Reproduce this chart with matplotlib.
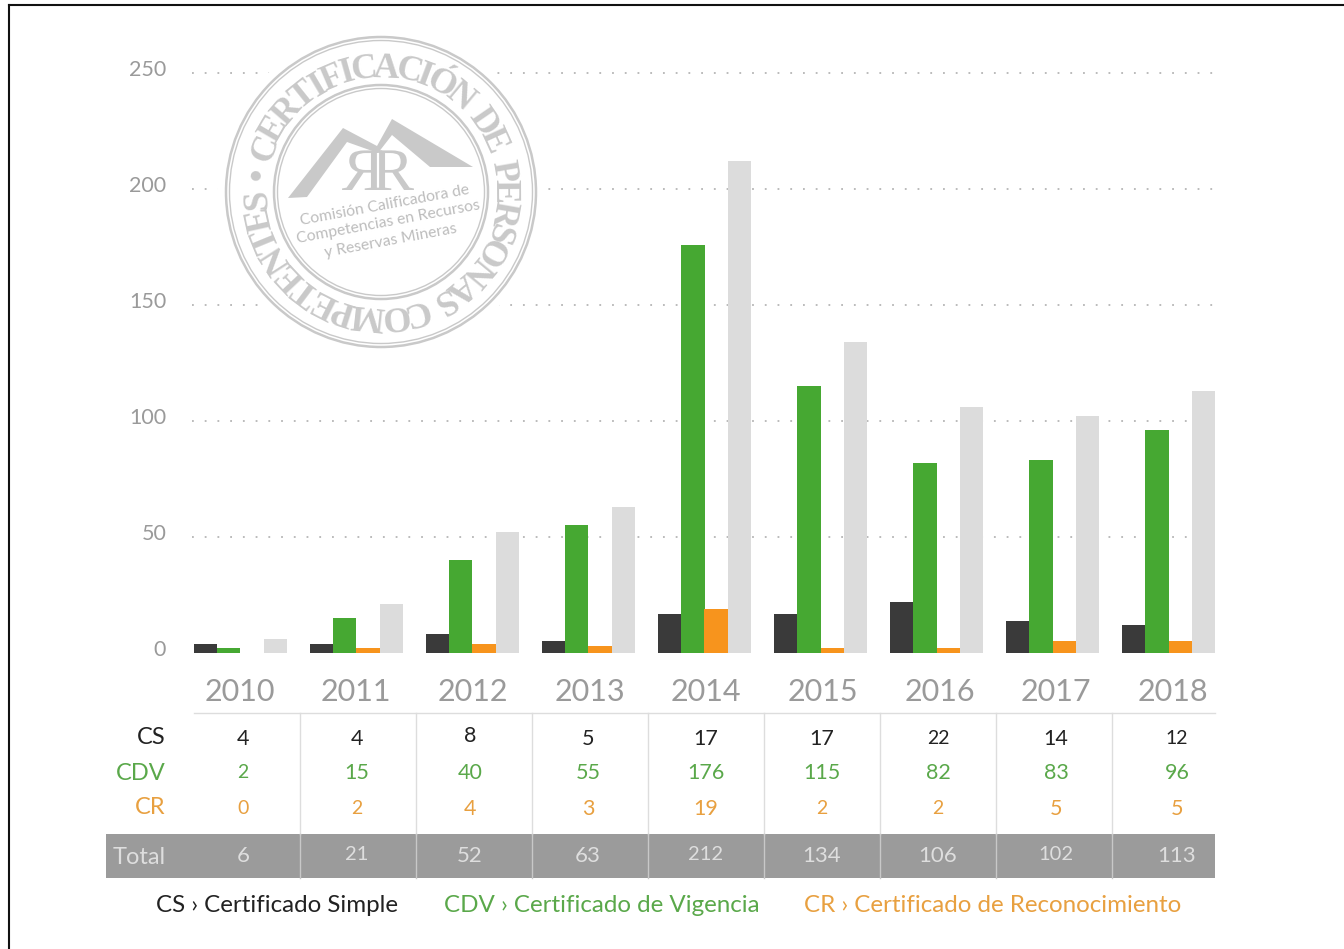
import matplotlib
matplotlib.use('Agg')
import matplotlib.pyplot as plt
from matplotlib.patches import Circle, Polygon, PathPatch, Rectangle
from matplotlib.textpath import TextPath
from matplotlib.font_manager import FontProperties
from matplotlib.transforms import Affine2D, ScaledTranslation
import numpy as np

years = ['2010', '2011', '2012', '2013', '2014', '2015', '2016', '2017', '2018']
cs = [4, 4, 8, 5, 17, 17, 22, 14, 12]
cdv = [2, 15, 40, 55, 176, 115, 82, 83, 96]
cr = [0, 2, 4, 3, 19, 2, 2, 5, 5]
total = [6, 21, 52, 63, 212, 134, 106, 102, 113]
yticks = [0, 50, 100, 150, 200, 250]
legend_text = ['CS \u203a Certificado Simple', 'CDV \u203a Certificado de Vigencia', 'CR \u203a Certificado de Reconocimiento']

black = '#3a3a3a'
green = '#46a832'
orange = '#f7941d'
light = '#dcdcdc'
txt_green = '#5aa84a'
txt_orange = '#e8a040'
seal = '#c9c9c9'

plt.rcParams['font.family'] = ['Lato', 'DejaVu Sans']

W, H = 1344, 949
fig = plt.figure(figsize=(W / 100, H / 100), dpi=100)

# overlay in pixels, same coords as the picture
bg = fig.add_axes([0, 0, 1, 1])
bg.set_xlim(0, W)
bg.set_ylim(H, 0)
bg.axis('off')
bg.plot([9, 9], [5, H], color='#111111', lw=1.5)
bg.plot([9, W], [5, 5], color='#111111', lw=1.5)

# main axes, 0 at y=653 and 250 at y=73
ax = fig.add_axes([194 / W, (H - 653) / H, (1215 - 194) / W, 580 / H])
ax.patch.set_alpha(0)
x = np.arange(len(years))
w = 0.2
ax.bar(x - 0.3, cs, w, color=black, zorder=3)
ax.bar(x - 0.1, cdv, w, color=green, zorder=3)
ax.bar(x + 0.1, cr, w, color=orange, zorder=3)
ax.bar(x + 0.3, total, w, color=light, zorder=3)
ax.set_xlim(-0.4, 8.4)
ax.set_ylim(0, 250)
for s in ax.spines.values():
    s.set_visible(False)
ax.set_xticks([])
ax.set_yticks(yticks)
ax.tick_params(length=0, pad=20, labelsize=15.5, labelcolor='#9a9a9a')
for t in ax.get_yticklabels():
    t.set_transform(t.get_transform() + ScaledTranslation(0, 5 / 100, fig.dpi_scale_trans))
for v in yticks[1:]:
    ax.plot([-0.42, 8.41], [v, v], ls=(0, (1, 6.05)), color='#b5b5b5', lw=1.3, zorder=1, clip_on=False)

# seal
cx, cy = 381, 192
sealax = fig.add_axes([0, 0, 1, 1])
sealax.set_xlim(0, W)
sealax.set_ylim(H, 0)
sealax.axis('off')
sealax.patch.set_alpha(0)
sealax.add_patch(Circle((cx, cy), 164, fc='white', ec='none'))
for r, lw in [(155, 1.8), (151.5, 1.0), (107, 1.8), (103.5, 1.0)]:
    sealax.add_patch(Circle((cx, cy), r, fc='none', ec=seal, lw=lw))

ring = '\u2022 CERTIFICACIÓN DE PERSONAS COMPETENTES '
fp = FontProperties(family='Liberation Serif', weight='bold', size=26)
adv = []
for ch in ring:
    if ch == ' ':
        adv.append(14.0)
    else:
        adv.append(TextPath((0, 0), ch, prop=fp).get_extents().width * 100 / 72 + 4.5)
adv = np.array(adv)
ang = adv / adv.sum() * 360
pos = np.cumsum(ang) - ang / 2
r_text = 115
for ch, a in zip(ring, pos):
    th = np.deg2rad(172 + ang[0] / 2 - a)
    px = cx + r_text * np.cos(th)
    py = cy - r_text * np.sin(th)
    sealax.text(px, py, ch, rotation=np.rad2deg(th) - 90, rotation_mode='anchor',
                ha='center', va='baseline', color=seal, fontproperties=fp)

mountain = [(288, 198), (343, 128), (377, 146), (392, 119), (473, 167), (430, 167),
            (392, 135), (378, 153), (347, 142), (307, 197)]
sealax.add_patch(Polygon(mountain, closed=True, fc=seal, ec='none'))
rp = TextPath((0, 0), 'R', prop=FontProperties(family='Liberation Serif', size=42))
sealax.add_patch(PathPatch(rp, fc=seal, ec='none',
                           transform=Affine2D().scale(1.5, -1.44).translate(372, 190) + sealax.transData))
sealax.add_patch(PathPatch(rp, fc=seal, ec='none',
                           transform=Affine2D().scale(-1.5, -1.44).translate(384, 190) + sealax.transData))
for s, (tx, ty) in zip(['Comisión Calificadora de', 'Competencias en Recursos', 'y Reservas Mineras'],
                       [(385, 205), (388, 222), (391, 241)]):
    sealax.text(tx, ty, s, rotation=10.5, rotation_mode='anchor', ha='center', va='center',
                color='#bdbdbd', fontsize=11.3)

# table
tb = sealax
tb.plot([194, 1215], [713, 713], color='#dddddd', lw=1)
tb.add_patch(Rectangle((106, 834), 1109, 44, fc='#9b9b9b', ec='none'))
for i in range(1, 9):
    xx = 184 + 116 * i
    tb.plot([xx, xx], [713, 834], color='#dddddd', lw=1)
    tb.plot([xx, xx], [834, 878], color='#c8c8c8', lw=1)


# the original numerals are old style: 0 1 2 sit small, 8 rises
def cell(xx, yy, v, color, size):
    s = str(v)
    if all(c in '012' for c in s):
        size = size - 1.5
        yy = yy - 1
    elif s == '8':
        yy = yy - 3
    tb.text(xx, yy, s, ha='center', va='center', color=color, fontsize=size)


year_x = [240, 356, 473, 590, 706, 823, 940, 1056, 1173]
col_x = [243, 357, 470, 588, 706, 822, 938, 1056, 1177]
for i, y in enumerate(years):
    tb.text(year_x[i], 692, y, ha='center', va='center', color='#9a9a9a', fontsize=22)
    cell(col_x[i], 739, cs[i], '#222222', 15.5)
    cell(col_x[i], 773, cdv[i], txt_green, 15.5)
    cell(col_x[i], 809, cr[i], txt_orange, 15.5)
    cell(col_x[i], 856, total[i], '#dedede', 16)
tb.text(166, 738, 'CS', ha='right', va='center', color='#222222', fontsize=17)
tb.text(166, 773, 'CDV', ha='right', va='center', color=txt_green, fontsize=17)
tb.text(166, 808, 'CR', ha='right', va='center', color=txt_orange, fontsize=17)
tb.text(166, 857, 'Total', ha='right', va='center', color='#dedede', fontsize=17)

tb.text(156, 906, legend_text[0], ha='left', va='center', color='#222222', fontsize=17.35)
tb.text(444, 906, legend_text[1], ha='left', va='center', color=txt_green, fontsize=17.35)
tb.text(804, 906, legend_text[2], ha='left', va='center', color=txt_orange, fontsize=17.35)

fig.savefig('out.png', dpi=100)
